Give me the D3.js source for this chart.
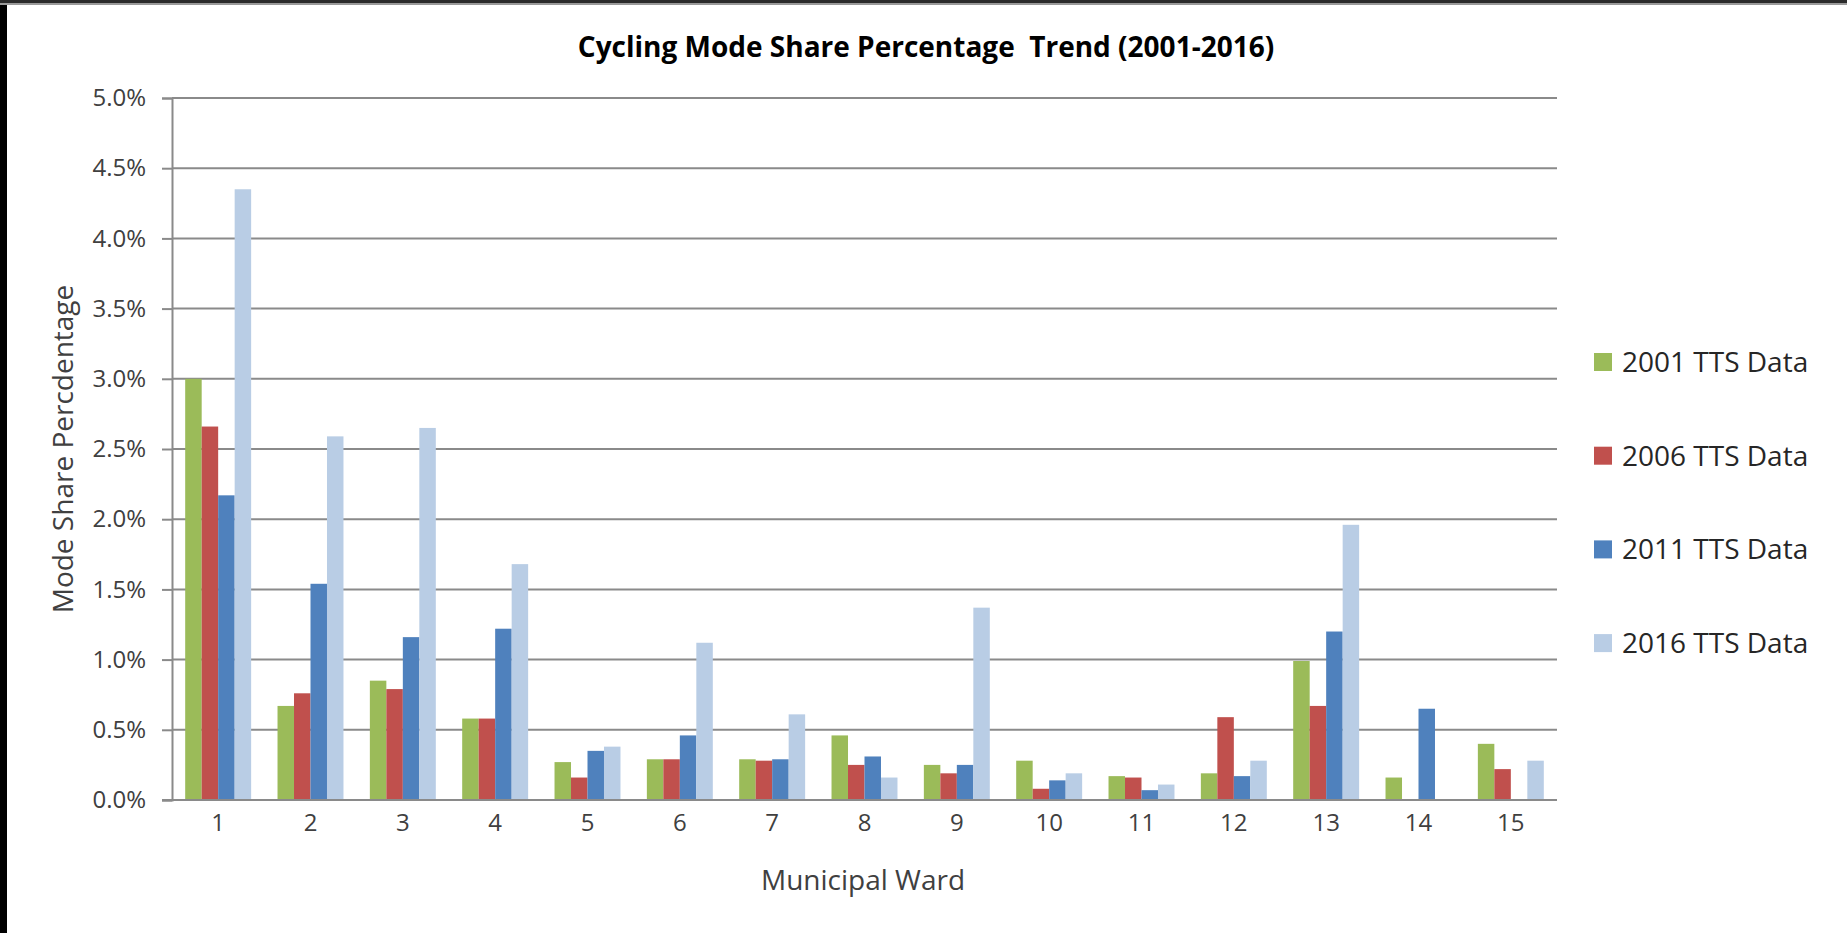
<!DOCTYPE html>
<html>
<head>
<meta charset="utf-8">
<script src="https://cdn.jsdelivr.net/npm/d3@7"></script>
<style>
  html, body { margin: 0; padding: 0; background: #fff; }
  svg { display: block; }
</style>
</head>
<body>
<div id="chart"></div>
<script>
/* ------------------------- Data ------------------------- */
var wards = ["1","2","3","4","5","6","7","8","9","10","11","12","13","14","15"];
var seriesNames = ["2001 TTS Data", "2006 TTS Data", "2011 TTS Data", "2016 TTS Data"];
var data2001 = [3.00, 0.67, 0.85, 0.58, 0.27, 0.29, 0.29, 0.46, 0.25, 0.28, 0.17, 0.19, 0.99, 0.16, 0.40];
var data2006 = [2.66, 0.76, 0.79, 0.58, 0.16, 0.29, 0.28, 0.25, 0.19, 0.08, 0.16, 0.59, 0.67, 0.00, 0.22];
var data2011 = [2.17, 1.54, 1.16, 1.22, 0.35, 0.46, 0.29, 0.31, 0.25, 0.14, 0.07, 0.17, 1.20, 0.65, 0.00];
var data2016 = [4.35, 2.59, 2.65, 1.68, 0.38, 1.12, 0.61, 0.16, 1.37, 0.19, 0.11, 0.28, 1.96, 0.00, 0.28];
var yTicks = [0, 0.5, 1.0, 1.5, 2.0, 2.5, 3.0, 3.5, 4.0, 4.5, 5.0];

var allSeries = [data2001, data2006, data2011, data2016];
var colors = ["#9bbb59", "#c0504d", "#4f81bd", "#b9cde5"];

/* ------------------------- General ------------------------- */
var W = 1847, H = 933,
    plot = {left: 172, right: 1557, top: 98, bottom: 800},
    fontFamily = "'Open Sans', sans-serif",
    gridColor = "#8a8a8a",
    textColor = "#404040";

var svg = d3.select("#chart").append("svg")
    .attr("width", W)
    .attr("height", H);

svg.append("rect").attr("width", W).attr("height", H).attr("fill", "#fff");

/* dark frame edges seen on the left and top of the screenshot */
svg.append("rect").attr("x", 0).attr("y", 0).attr("width", 7).attr("height", H).attr("fill", "#000");
svg.append("rect").attr("x", 0).attr("y", 0).attr("width", W).attr("height", 3).attr("fill", "#2b2b2b");
svg.append("rect").attr("x", 0).attr("y", 3).attr("width", W).attr("height", 2).attr("fill", "#9a9a9a");

var x = d3.scaleBand()
    .domain(wards)
    .range([plot.left, plot.right])
    .paddingInner(0)
    .paddingOuter(0);

var y = d3.scaleLinear()
    .domain([0, 5])
    .range([plot.bottom, plot.top]);

var barW = x.bandwidth() / 5.6,
    groupOffset = (x.bandwidth() - 4 * barW) / 2;

/* Gridlines */
svg.append("g")
    .selectAll("line")
    .data(yTicks.slice(1))
    .enter().append("line")
    .attr("x1", plot.left)
    .attr("x2", plot.right)
    .attr("y1", function(d) { return y(d); })
    .attr("y2", function(d) { return y(d); })
    .attr("stroke", gridColor)
    .attr("stroke-width", 2);

/* Y axis */
var yAxis = d3.axisLeft(y)
    .tickValues(yTicks)
    .tickSize(10)
    .tickPadding(16)
    .tickFormat(function(d) { return d3.format(".1f")(d) + "%"; });

var yg = svg.append("g")
    .attr("transform", "translate(" + plot.left + ",0)")
    .call(yAxis);
yg.select(".domain").attr("stroke", gridColor).attr("stroke-width", 2);
yg.selectAll(".tick line").attr("stroke", gridColor).attr("stroke-width", 2);
yg.selectAll(".tick text")
    .attr("fill", textColor)
    .attr("font-size", 24)
    .attr("font-family", fontFamily);

/* X axis */
var xAxis = d3.axisBottom(x)
    .tickSize(0)
    .tickPadding(14);

var xg = svg.append("g")
    .attr("transform", "translate(0," + plot.bottom + ")")
    .call(xAxis);
xg.select(".domain").remove();
xg.selectAll(".tick text")
    .attr("fill", textColor)
    .attr("font-size", 24)
    .attr("font-family", fontFamily);

/* Bars */
svg.append("g")
    .selectAll("g")
    .data(allSeries)
    .enter().append("g")
        .attr("fill", function(d, i) { return colors[i]; })
        .attr("transform", function(d, i) { return "translate(" + (groupOffset + i * barW) + ",0)"; })
    .selectAll("rect")
    .data(function(d) { return d; })
    .enter().append("rect")
        .attr("x", function(d, i) { return x(wards[i]); })
        .attr("y", function(d) { return y(d); })
        .attr("width", barW)
        .attr("height", function(d) { return y(0) - y(d); });

/* Bottom axis line drawn over bars */
svg.append("line")
    .attr("x1", plot.left - 10)
    .attr("x2", plot.right)
    .attr("y1", plot.bottom)
    .attr("y2", plot.bottom)
    .attr("stroke", gridColor)
    .attr("stroke-width", 2);

/* Titles */
svg.append("text")
    .attr("x", 926)
    .attr("y", 57)
    .attr("text-anchor", "middle")
    .attr("font-size", 28)
    .attr("font-weight", "bold")
    .attr("font-family", fontFamily)
    .attr("fill", "#000")
    .attr("xml:space", "preserve")
    .text("Cycling Mode Share Percentage  Trend (2001-2016)");

svg.append("text")
    .attr("x", 863)
    .attr("y", 890)
    .attr("text-anchor", "middle")
    .attr("font-size", 28)
    .attr("font-family", fontFamily)
    .attr("fill", textColor)
    .text("Municipal Ward");

svg.append("text")
    .attr("transform", "translate(73,449)rotate(-90)")
    .attr("text-anchor", "middle")
    .attr("font-size", 28)
    .attr("font-family", fontFamily)
    .attr("fill", textColor)
    .text("Mode Share Percdentage");

/* Legend */
var legend = svg.append("g")
    .selectAll("g")
    .data(seriesNames)
    .enter().append("g")
        .attr("transform", function(d, i) { return "translate(1594," + (362 + i * 93.7) + ")"; });

legend.append("rect")
    .attr("x", 0)
    .attr("y", -9)
    .attr("width", 18)
    .attr("height", 18)
    .attr("fill", function(d, i) { return colors[i]; });

legend.append("text")
    .attr("x", 28)
    .attr("y", 0)
    .attr("dy", "0.35em")
    .attr("font-size", 28)
    .attr("font-family", fontFamily)
    .attr("fill", "#262626")
    .text(function(d) { return d; });
</script>
</body>
</html>
